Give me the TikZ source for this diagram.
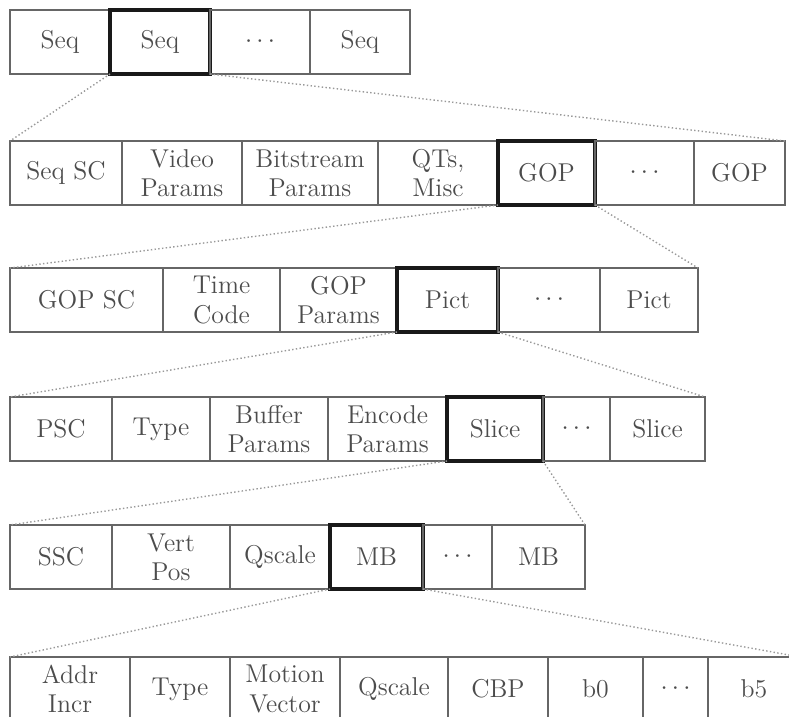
\documentclass[tikz,border=0pt]{standalone}
\usetikzlibrary{positioning}
\begin{document}
\begin{tikzpicture}[x=0.15mm, y=-0.15mm, node distance=0pt,
    cell/.style = {draw=black!60, line width=0.5pt, outer sep=0pt, inner sep=0pt,
                   minimum height=9.6mm, align=center, text=black!70,
                   font=\fontsize{11}{12.5}\selectfont},
    sel/.style = {cell, draw=black!90, line width=1.4pt},
    link/.style = {black!40, densely dotted, line width=0.6pt}]
    \useasboundingbox (0,0) rectangle (789,717);
    \clip (0,0) rectangle (789,717);
    % sequences
    \node[cell, minimum width=15mm, anchor=north west] (seqa) at (10,10) {Seq};
    \node[sel, minimum width=15mm] (seqb) [right=of seqa] {Seq};
    \node[cell, minimum width=15mm] (seqc) [right=of seqb] {$\cdots$};
    \node[cell, minimum width=15mm] (seqd) [right=of seqc] {Seq};
    % sequence layer
    \node[cell, minimum width=16.8mm, anchor=north west] (seqsc) at (10,141) {Seq SC};
    \node[cell, minimum width=18mm] (vidpar) [right=of seqsc] {Video\\Params};
    \node[cell, minimum width=20.4mm] (bitpar) [right=of vidpar] {Bitstream\\Params};
    \node[cell, minimum width=18mm] (qts) [right=of bitpar] {QTs,\\Misc};
    \node[sel, minimum width=14.55mm] (gopa) [right=of qts] {GOP};
    \node[cell, minimum width=14.85mm] (gopb) [right=of gopa] {$\cdots$};
    \node[cell, minimum width=13.65mm] (gopc) [right=of gopb] {GOP};
    % GOP layer
    \node[cell, minimum width=22.95mm, anchor=north west] (gopsc) at (10,268) {GOP SC};
    \node[cell, minimum width=17.55mm] (tcode) [right=of gopsc] {Time\\Code};
    \node[cell, minimum width=17.55mm] (goppar) [right=of tcode] {GOP\\Params};
    \node[sel, minimum width=15.15mm] (picta) [right=of goppar] {Pict};
    \node[cell, minimum width=15.3mm] (pictb) [right=of picta] {$\cdots$};
    \node[cell, minimum width=14.7mm] (pictc) [right=of pictb] {Pict};
    % picture layer
    \node[cell, minimum width=15.3mm, anchor=north west] (psc) at (10,397) {PSC};
    \node[cell, minimum width=14.7mm] (ptype) [right=of psc] {Type};
    \node[cell, minimum width=17.7mm] (bufpar) [right=of ptype] {Buffer\\Params};
    \node[cell, minimum width=17.85mm] (encpar) [right=of bufpar] {Encode\\Params};
    \node[sel, minimum width=14.4mm] (slicea) [right=of encpar] {Slice};
    \node[cell, minimum width=10.05mm] (sliceb) [right=of slicea] {$\cdots$};
    \node[cell, minimum width=14.25mm] (slicec) [right=of sliceb] {Slice};
    % slice layer
    \node[cell, minimum width=15.3mm, anchor=north west] (ssc) at (10,525) {SSC};
    \node[cell, minimum width=17.7mm] (vpos) [right=of ssc] {Vert\\Pos};
    \node[cell, minimum width=15mm] (sqscale) [right=of vpos] {Qscale};
    \node[sel, minimum width=13.95mm] (mba) [right=of sqscale] {MB};
    \node[cell, minimum width=10.35mm] (mbb) [right=of mba] {$\cdots$};
    \node[cell, minimum width=13.95mm] (mbc) [right=of mbb] {MB};
    % macroblock layer
    \node[cell, minimum width=18mm, anchor=north west] (addr) at (10,657) {Addr\\Incr};
    \node[cell, minimum width=15mm] (mtype) [right=of addr] {Type};
    \node[cell, minimum width=16.5mm] (mvec) [right=of mtype] {Motion\\Vector};
    \node[cell, minimum width=16.2mm] (mqscale) [right=of mvec] {Qscale};
    \node[cell, minimum width=15mm] (cbp) [right=of mqscale] {CBP};
    \node[cell, minimum width=14.25mm] (blka) [right=of cbp] {b0};
    \node[cell, minimum width=9.75mm] (blkb) [right=of blka] {$\cdots$};
    \node[cell, minimum width=13.8mm] (blkc) [right=of blkb] {b5};
    % zoom lines
    \draw[link] (seqb.south west) -- (seqsc.north west);
    \draw[link] (seqb.south east) -- (gopc.north east);
    \draw[link] (gopa.south west) -- (gopsc.north west);
    \draw[link] (gopa.south east) -- (pictc.north east);
    \draw[link] (picta.south west) -- (psc.north west);
    \draw[link] (picta.south east) -- (slicec.north east);
    \draw[link] (slicea.south west) -- (ssc.north west);
    \draw[link] (slicea.south east) -- (mbc.north east);
    \draw[link] (mba.south west) -- (addr.north west);
    \draw[link] (mba.south east) -- (blkc.north east);
\end{tikzpicture}
\end{document}
